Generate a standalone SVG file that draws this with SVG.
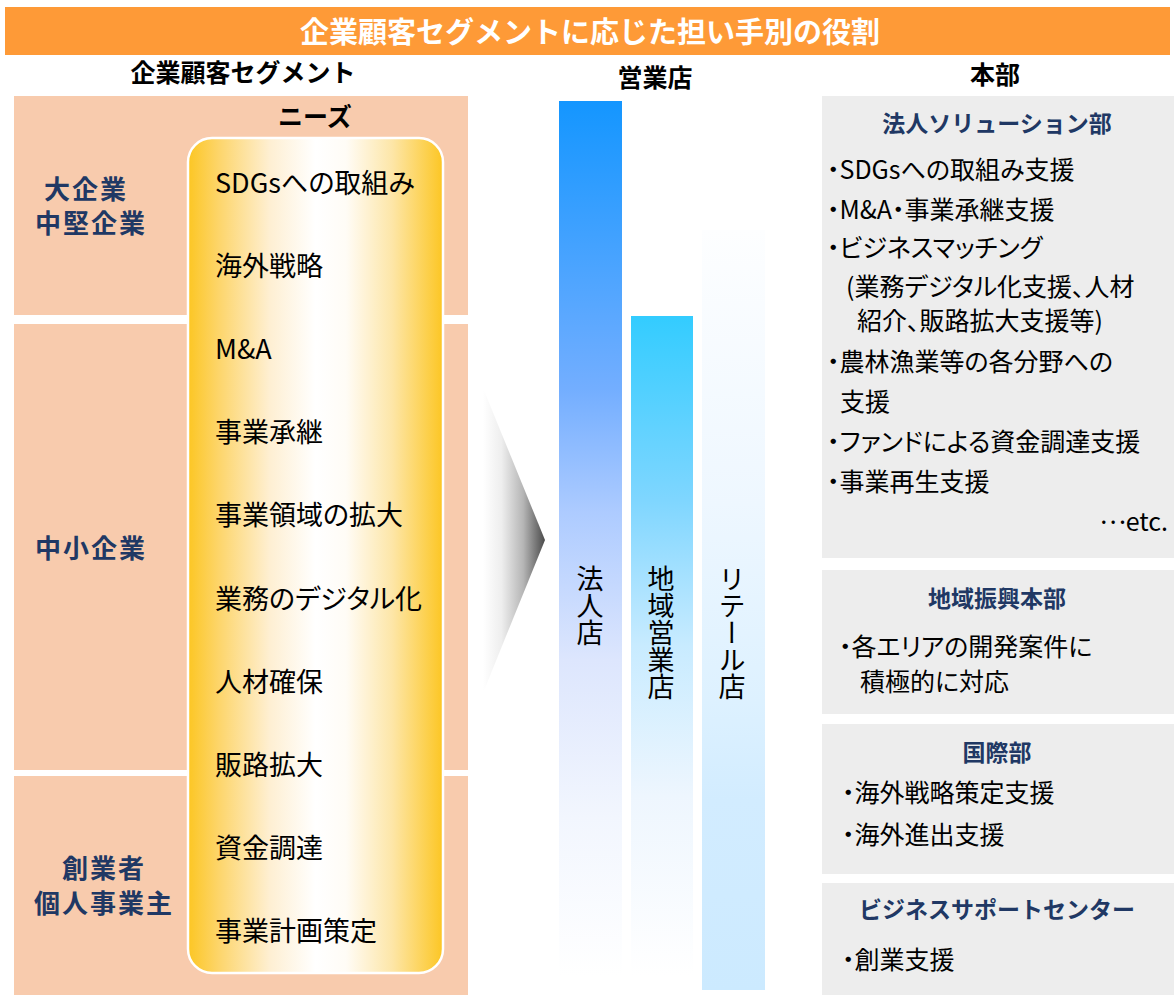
<svg xmlns="http://www.w3.org/2000/svg" width="1174" height="998" viewBox="0 0 1174 998">
<defs>
<style>
text { font-family: "Noto Sans CJK JP", "Noto Sans CJK SC", sans-serif; }
.ttl { font-weight: bold; font-size: 29px; fill: #FFFFFF; text-anchor: middle; }
.hd { font-weight: bold; font-size: 25px; fill: #000000; text-anchor: middle; }
.seg { font-weight: bold; font-size: 26px; fill: #203864; text-anchor: middle; letter-spacing: 2px; }
.need { font-size: 27px; fill: #000000; font-feature-settings: "palt"; }
.vt { font-size: 27px; fill: #000000; writing-mode: vertical-rl; }
.pt { font-weight: bold; font-size: 23px; fill: #203864; text-anchor: middle; }
.pi { font-size: 25px; fill: #000000; font-feature-settings: "palt"; }
.peach { fill: #F8CBAD; }
.grey { fill: #EDEDED; }
</style>
<linearGradient id="gNeeds" x1="0" y1="0" x2="1" y2="0">
<stop offset="0" stop-color="#FCC623"/>
<stop offset="0.12" stop-color="#FDD56A"/>
<stop offset="0.32" stop-color="#FEEFD2"/>
<stop offset="0.5" stop-color="#FFFFFF"/>
<stop offset="0.62" stop-color="#FFFCF6"/>
<stop offset="0.8" stop-color="#FDE6A8"/>
<stop offset="1" stop-color="#FCC623"/>
</linearGradient>
<linearGradient id="gArrow" x1="0" y1="0" x2="1" y2="0">
<stop offset="0" stop-color="#FFFFFF"/>
<stop offset="0.3" stop-color="#EEEEEE"/>
<stop offset="0.65" stop-color="#B5B5B5"/>
<stop offset="1" stop-color="#4A4A4A"/>
</linearGradient>
<linearGradient id="gCorp" x1="0" y1="0" x2="0" y2="1">
<stop offset="0" stop-color="#1496FF"/>
<stop offset="0.33" stop-color="#73AEFF"/>
<stop offset="0.47" stop-color="#ADCBFF"/>
<stop offset="0.64" stop-color="#DDE6FD"/>
<stop offset="0.82" stop-color="#F2F6FE"/>
<stop offset="1" stop-color="#FFFFFF"/>
</linearGradient>
<linearGradient id="gReg" x1="0" y1="0" x2="0" y2="1">
<stop offset="0" stop-color="#33CCFF"/>
<stop offset="0.28" stop-color="#7FD6FF"/>
<stop offset="0.5" stop-color="#C8EBFF"/>
<stop offset="0.73" stop-color="#EEF6FE"/>
<stop offset="1" stop-color="#FFFFFF"/>
</linearGradient>
<linearGradient id="gRet" x1="0" y1="0" x2="0" y2="1">
<stop offset="0" stop-color="#FDFEFF"/>
<stop offset="0.36" stop-color="#EEF7FF"/>
<stop offset="0.62" stop-color="#DDF1FF"/>
<stop offset="0.75" stop-color="#D2ECFF"/>
<stop offset="1" stop-color="#CCEAFF"/>
</linearGradient>
</defs>
<rect x="0" y="0" width="1174" height="998" fill="#FFFFFF"/>

<g id="title">
<rect x="5" y="7" width="1165" height="48" fill="#FE9A37"/>
<text class="ttl" x="590" y="43">企業顧客セグメントに応じた担い手別の役割</text>
</g>

<g id="headers">
<text class="hd" x="243" y="82">企業顧客セグメント</text>
<text class="hd" x="655" y="87">営業店</text>
<text class="hd" x="995" y="84">本部</text>
</g>

<g id="seg-large">
<rect class="peach" x="14" y="96" width="454" height="219"/>
<text class="seg" x="86" y="199">大企業</text>
<text class="seg" x="91" y="233">中堅企業</text>
</g>
<g id="seg-sme">
<rect class="peach" x="14" y="324" width="454" height="446"/>
<text class="seg" x="91" y="558">中小企業</text>
</g>
<g id="seg-startup">
<rect class="peach" x="14" y="776" width="454" height="219"/>
<text class="seg" x="104" y="878">創業者</text>
<text class="seg" x="104" y="913">個人事業主</text>
</g>

<g id="needs">
<text class="hd" x="315" y="126">ニーズ</text>
<rect x="188" y="138" width="255" height="835" rx="24" ry="24" fill="url(#gNeeds)" stroke="#FFFFFF" stroke-width="2.5"/>
<text class="need" x="215" y="193">SDGsへの取組み</text>
<text class="need" x="215" y="276">海外戦略</text>
<text class="need" x="215" y="359">M&amp;A</text>
<text class="need" x="215" y="442">事業承継</text>
<text class="need" x="215" y="525">事業領域の拡大</text>
<text class="need" x="215" y="609">業務のデジタル化</text>
<text class="need" x="215" y="692">人材確保</text>
<text class="need" x="215" y="775">販路拡大</text>
<text class="need" x="215" y="858">資金調達</text>
<text class="need" x="215" y="941">事業計画策定</text>
</g>

<g id="connectors">
<polygon points="483,388 545,540 483,693" fill="url(#gArrow)"/>
</g>

<g id="bar-corporate">
<rect x="559" y="101" width="63" height="874" fill="url(#gCorp)"/>
<text class="vt" x="590" y="565">法人店</text>
</g>
<g id="bar-regional">
<rect x="631" y="316" width="62" height="659" fill="url(#gReg)"/>
<text class="vt" x="661" y="565">地域営業店</text>
</g>
<g id="bar-retail">
<rect x="702" y="230" width="63" height="760" fill="url(#gRet)"/>
<text class="vt" x="732" y="565">リテール店</text>
</g>

<g id="panel-corp-solution">
<rect class="grey" x="822" y="96" width="352" height="462"/>
<text class="pt" x="997" y="132">法人ソリューション部</text>
<text class="pi" x="827" y="179">・SDGsへの取組み支援</text>
<text class="pi" x="827" y="219">・M&amp;A・事業承継支援</text>
<text class="pi" x="827" y="257">・ビジネスマッチング</text>
<text class="pi" x="846" y="296">(業務デジタル化支援、人材</text>
<text class="pi" x="857" y="330">紹介、販路拡大支援等)</text>
<text class="pi" x="827" y="371">・農林漁業等の各分野への</text>
<text class="pi" x="840" y="411">支援</text>
<text class="pi" x="827" y="451">・ファンドによる資金調達支援</text>
<text class="pi" x="827" y="491">・事業再生支援</text>
<text class="pi" x="1168" y="531" text-anchor="end"><tspan dy="-7">…</tspan><tspan dy="7">etc.</tspan></text>
</g>

<g id="panel-regional">
<rect class="grey" x="822" y="570" width="352" height="144"/>
<text class="pt" x="997" y="607">地域振興本部</text>
<text class="pi" x="839" y="656">・各エリアの開発案件に</text>
<text class="pi" x="860" y="691">積極的に対応</text>
</g>

<g id="panel-intl">
<rect class="grey" x="822" y="724" width="352" height="150"/>
<text class="pt" x="997" y="761">国際部</text>
<text class="pi" x="842" y="802">・海外戦略策定支援</text>
<text class="pi" x="842" y="844">・海外進出支援</text>
</g>

<g id="panel-bsc">
<rect class="grey" x="822" y="883" width="352" height="112"/>
<text class="pt" x="997" y="918">ビジネスサポートセンター</text>
<text class="pi" x="842" y="969">・創業支援</text>
</g>
</svg>
